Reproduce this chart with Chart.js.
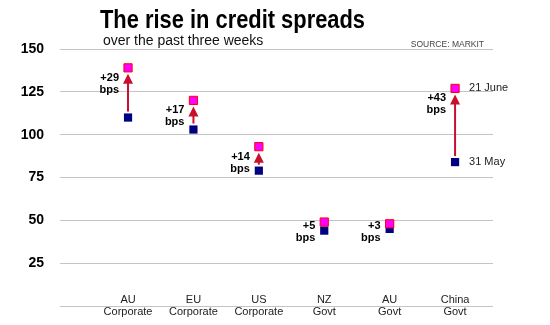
<!DOCTYPE html>
<html>
<head>
<meta charset="utf-8">
<script src="https://cdn.jsdelivr.net/npm/chart.js"></script>
<style>
  html, body { margin: 0; padding: 0; background: #fff; }
  #wrap { width: 550px; height: 325px; position: relative; }
</style>
</head>
<body>
<div id="wrap"><canvas id="chart"></canvas></div>
<script>
// chart values
const categories = [['AU', 'Corporate'], ['EU', 'Corporate'], ['US', 'Corporate'], ['NZ', 'Govt'], ['AU', 'Govt'], ['China', 'Govt']];
const may31 = [110, 103, 79, 44, 45, 84];
const june21 = [139, 120, 93, 49, 48, 127];
const showArrow = [true, true, true, false, false, true];
const yTicks = [25, 50, 75, 100, 125, 150];

const FONT = '"Liberation Sans", Arial, sans-serif';
const ARROW = '#c8102e';

const toPoints = arr => arr.map((v, i) => ({ x: i, y: v }));

// title, subtitle, source line
const headerPlugin = {
  id: 'header',
  afterDraw(chart) {
    const ctx = chart.ctx;
    ctx.save();
    ctx.fillStyle = '#000';
    ctx.textBaseline = 'alphabetic';
    ctx.textAlign = 'left';
    // narrow bold title: squeeze Liberation Sans horizontally
    const title = 'The rise in credit spreads';
    ctx.font = 'bold 25px ' + FONT;
    const w = ctx.measureText(title).width;
    ctx.save();
    ctx.translate(100, 28);
    ctx.scale(265 / w, 1);
    ctx.fillText(title, 0, 0);
    ctx.restore();
    ctx.font = '14px ' + FONT;
    ctx.fillStyle = '#111';
    ctx.fillText('over the past three weeks', 103, 45);
    ctx.textAlign = 'right';
    ctx.font = '8.5px ' + FONT;
    ctx.fillStyle = '#444';
    ctx.fillText('SOURCE: MARKIT', 484, 47);
    ctx.restore();
  }
};

// arrows, change labels, category labels, date labels
const annotationPlugin = {
  id: 'annot',
  beforeDatasetsDraw(chart) {
    const { ctx, scales: { x, y } } = chart;
    ctx.save();
    ctx.strokeStyle = ARROW;
    ctx.fillStyle = ARROW;
    ctx.lineWidth = 2;
    showArrow.forEach((show, i) => {
      if (!show) return;
      const px = x.getPixelForValue(i);
      const yBase = y.getPixelForValue(may31[i]) - 6;
      const yTip = y.getPixelForValue(june21[i]) + 6;
      ctx.beginPath();
      ctx.moveTo(px, yBase);
      ctx.lineTo(px, yTip + 8);
      ctx.stroke();
      ctx.beginPath();
      ctx.moveTo(px, yTip);
      ctx.lineTo(px - 5, yTip + 10);
      ctx.lineTo(px + 5, yTip + 10);
      ctx.closePath();
      ctx.fill();
    });
    ctx.restore();
  },
  afterDatasetsDraw(chart) {
    const { ctx, scales: { x, y } } = chart;
    ctx.save();
    ctx.textBaseline = 'middle';
    // change labels
    ctx.font = 'bold 11px ' + FONT;
    ctx.fillStyle = '#000';
    ctx.textAlign = 'right';
    june21.forEach((v, i) => {
      const px = x.getPixelForValue(i) - 9;
      const top = y.getPixelForValue(v);
      const bottom = y.getPixelForValue(may31[i]);
      const py = Math.min(top + 10, (top + bottom) / 2);
      ctx.fillText('+' + (v - may31[i]), px, py);
      ctx.fillText('bps', px, py + 12);
    });
    // category labels straddling the base line
    ctx.font = '11px ' + FONT;
    ctx.fillStyle = '#222';
    ctx.textAlign = 'center';
    const base = y.getPixelForValue(0);
    categories.forEach((lines, i) => {
      const px = x.getPixelForValue(i);
      ctx.fillText(lines[0], px, base - 6);
      ctx.fillText(lines[1], px, base + 6);
    });
    // date labels next to the last category
    const last = categories.length - 1;
    const lx = x.getPixelForValue(last) + 14;
    ctx.textAlign = 'left';
    ctx.fillText('21 June', lx, y.getPixelForValue(june21[last]));
    ctx.fillText('31 May', lx, y.getPixelForValue(may31[last]));
    ctx.restore();
  }
};

new Chart(document.getElementById('chart'), {
  type: 'scatter',
  data: {
    datasets: [
      {
        label: '21 June',
        data: toPoints(june21),
        pointStyle: 'rect',
        pointRadius: 5.8,
        pointHoverRadius: 5.8,
        backgroundColor: '#ff00ff',
        borderColor: '#ff0000',
        borderWidth: 1
      },
      {
        label: '31 May',
        data: toPoints(may31),
        pointStyle: 'rect',
        pointRadius: 5.8,
        pointHoverRadius: 5.8,
        backgroundColor: '#000080',
        borderColor: '#000080',
        borderWidth: 0
      }
    ]
  },
  options: {
    responsive: true,
    maintainAspectRatio: false,
    animation: false,
    layout: { padding: { left: 0, top: 49, right: 57, bottom: 19 } },
    plugins: {
      legend: { display: false },
      tooltip: { enabled: false }
    },
    scales: {
      x: {
        type: 'linear',
        min: -1.04,
        max: 5.58,
        display: false
      },
      y: {
        min: 0,
        max: 150,
        afterFit: s => { s.width = 60; s.paddingBottom = 0; s.paddingTop = 0; },
        afterBuildTicks: s => { s.ticks = [0].concat(yTicks).map(v => ({ value: v })); },
        border: { display: false },
        grid: { color: '#c4c4c4', drawTicks: false, lineWidth: 1 },
        ticks: {
          padding: 16,
          color: '#000',
          font: { family: FONT, size: 14, weight: 'bold' },
          callback: v => (v === 0 ? '' : v)
        }
      }
    }
  },
  plugins: [headerPlugin, annotationPlugin]
});
</script>
</body>
</html>
